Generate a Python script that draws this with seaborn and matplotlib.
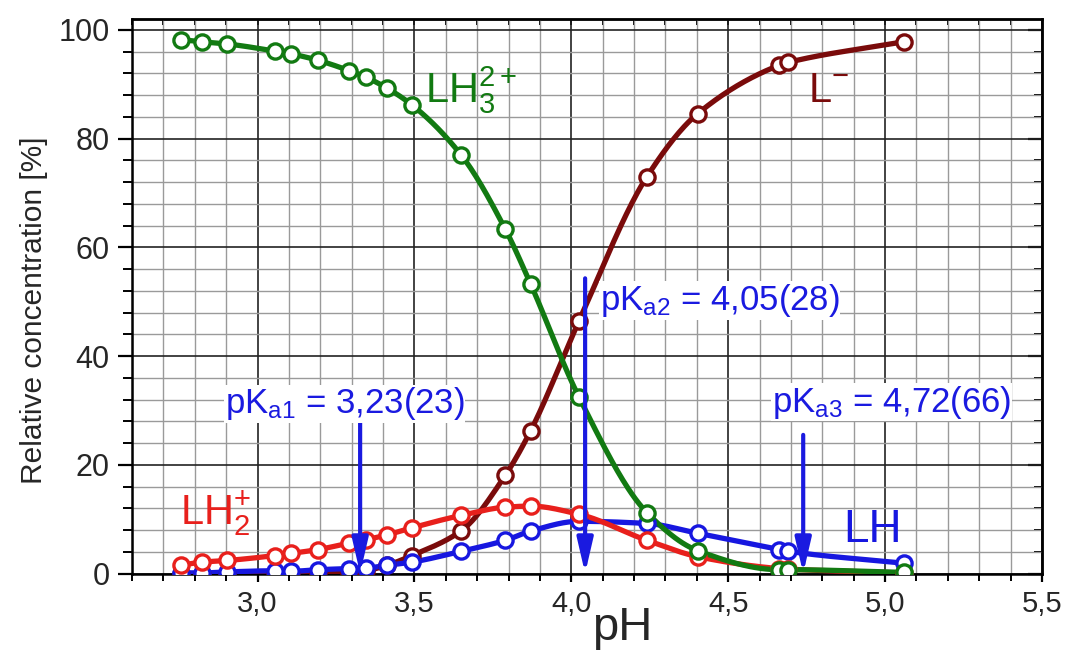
import numpy as np
import pandas as pd
import matplotlib
matplotlib.use("Agg")
import matplotlib.pyplot as plt
from matplotlib.ticker import MultipleLocator, FuncFormatter
import seaborn as sns

# ---------------- data ----------------
ph = [2.755, 2.824, 2.904, 3.055, 3.106, 3.193, 3.292, 3.345, 3.412, 3.492,
      3.650, 3.790, 3.870, 4.024, 4.241, 4.403, 4.663, 4.690, 5.059]
lh3 = [98.2, 97.8, 97.4, 96.1, 95.6, 94.4, 92.5, 91.3, 89.3, 86.2,
       76.9, 63.3, 53.3, 32.5, 11.2, 4.2, 0.7, 0.7, 0.2]
lh2 = [1.5, 2.1, 2.4, 3.3, 3.7, 4.4, 5.6, 6.2, 7.1, 8.4,
       10.7, 12.2, 12.4, 10.9, 6.1, 3.1, 0.9, 0.8, 0.1]
lh = [0.1, 0.1, 0.3, 0.5, 0.4, 0.7, 0.9, 1.0, 1.5, 2.1,
      4.1, 6.1, 7.8, 9.6, 9.2, 7.4, 4.4, 4.1, 1.9]
l_minus = [0.0, 0.0, 0.0, 0.0, 0.0, 0.0, 0.1, 0.5, 1.5, 3.3,
           7.9, 18.1, 26.2, 46.4, 73.0, 84.6, 93.5, 94.0, 97.8]

species_labels = ["L$^{-}$", "LH", "LH$_{2}^{+}$", "LH$_{3}^{2+}$"]
species_values = [l_minus, lh, lh2, lh3]

pka_labels = ["pK$_{\\mathrm{a1}}$ = 3,23(23)",
              "pK$_{\\mathrm{a2}}$ = 4,05(28)",
              "pK$_{\\mathrm{a3}}$ = 4,72(66)"]
pka_arrow_x = [3.327, 4.044, 4.739]
pka_arrow_top = [27.7, 54.3, 25.5]

x_label = "pH"
y_label = "Relative concentration [%]"

# ---------------- style ----------------
colors = ["#7a0b0b", "#1717e0", "#e8201c", "#127a12"]
ann_blue = "#1a1ae0"

sns.set_theme(style="white")
plt.rcParams["font.family"] = ["Liberation Sans", "DejaVu Sans"]
plt.rcParams["mathtext.fontset"] = "custom"
plt.rcParams["mathtext.rm"] = "Liberation Sans"
plt.rcParams["mathtext.it"] = "Liberation Sans"
plt.rcParams["mathtext.bf"] = "Liberation Sans:bold"


def pchip(x, y, xs):
    x = np.asarray(x, float)
    y = np.asarray(y, float)
    h = np.diff(x)
    d = np.diff(y) / h
    n = len(x)
    m = np.zeros(n)
    for k in range(1, n - 1):
        if d[k - 1] * d[k] <= 0:
            m[k] = 0.0
        else:
            w1 = 2 * h[k] + h[k - 1]
            w2 = h[k] + 2 * h[k - 1]
            m[k] = (w1 + w2) / (w1 / d[k - 1] + w2 / d[k])
    m[0] = d[0]
    m[-1] = d[-1]
    idx = np.clip(np.searchsorted(x, xs) - 1, 0, n - 2)
    t = (xs - x[idx]) / h[idx]
    h00 = 2 * t**3 - 3 * t**2 + 1
    h10 = t**3 - 2 * t**2 + t
    h01 = -2 * t**3 + 3 * t**2
    h11 = t**3 - t**2
    return (h00 * y[idx] + h10 * h[idx] * m[idx] + h01 * y[idx + 1]
            + h11 * h[idx] * m[idx + 1])


fig = plt.figure(figsize=(10.68, 6.5), dpi=100)
ax = fig.add_axes([132 / 1068, 1 - 573.5 / 650, 910 / 1068, 554.5 / 650])

xs = np.linspace(ph[0], ph[-1], 400)
for vals, col in zip(species_values, colors):
    sns.lineplot(x=xs, y=pchip(ph, vals, xs), color=col, linewidth=3.8,
                 estimator=None, sort=False, ax=ax, zorder=3)
    sns.scatterplot(x=ph, y=vals, facecolor="white", edgecolor=col,
                    linewidth=2.4, s=120, ax=ax, zorder=4)

ax.set_xlim(2.6, 5.5)
ax.set_ylim(0, 102)

ax.xaxis.set_major_locator(MultipleLocator(0.5))
ax.xaxis.set_minor_locator(MultipleLocator(0.1))
ax.yaxis.set_major_locator(MultipleLocator(20))
ax.yaxis.set_minor_locator(MultipleLocator(4))
ax.xaxis.set_major_formatter(FuncFormatter(lambda v, p: f"{v:.1f}".replace(".", ",")))
ax.yaxis.set_major_formatter(FuncFormatter(lambda v, p: f"{v:.0f}"))

ax.set_axisbelow(True)
ax.grid(which="major", color="#222222", lw=1.2)
ax.grid(which="minor", color="#9a9a9a", lw=1.0)

for s in ax.spines.values():
    s.set_color("black")
    s.set_linewidth(1.8)

ax.tick_params(axis="x", which="major", direction="out", length=6, width=1.6,
               color="black", labelsize=21, pad=6, bottom=True)
ax.tick_params(axis="x", which="minor", direction="out", length=5, width=1.4,
               color="black", bottom=True)
ax.tick_params(axis="y", which="major", direction="out", length=10, width=1.6,
               color="black", labelsize=22, pad=6, left=True)
ax.tick_params(axis="y", which="minor", direction="out", length=6.5, width=1.4,
               color="black", left=True)

top = ax.secondary_xaxis("top")
top.xaxis.set_major_locator(MultipleLocator(0.5))
top.xaxis.set_minor_locator(MultipleLocator(0.1))
top.tick_params(which="both", direction="in", length=4.5, width=1.4,
                labeltop=False, color="black")
right = ax.secondary_yaxis("right")
right.yaxis.set_major_locator(MultipleLocator(20))
right.yaxis.set_minor_locator(MultipleLocator(4))
right.tick_params(which="major", direction="in", length=10, width=1.6,
                  labelright=False, color="black")
right.tick_params(which="minor", direction="in", length=6, width=1.4,
                  labelright=False, color="black")
for sec in (top, right):
    for s in sec.spines.values():
        s.set_linewidth(1.8)

ax.set_xlabel(x_label, fontsize=34, va="top")
ax.xaxis.set_label_coords((622 - 132) / 910, -0.058)
ax.set_ylabel(y_label, fontsize=21.5, va="center")
ax.yaxis.set_label_coords(-0.108, (573.5 - 310) / 554.5)

# species labels
label_pos = [(4.754, 86.7), (4.866, 5.8), (2.753, 8.9), (3.534, 86.7)]
label_size = [30, 33, 30, 30]
for txt, (lx, ly), col, fs in zip(species_labels, label_pos, colors, label_size):
    ax.text(lx, ly, txt, color=col, fontsize=fs, ha="left", va="baseline",
            zorder=5)

# pKa annotations
text_pos = [(2.896, 31.2), (4.091, 50.2), (4.640, 31.5)]
for txt, (tx, ty), axx, aty in zip(pka_labels, text_pos, pka_arrow_x, pka_arrow_top):
    ax.annotate("", xy=(axx, 0), xytext=(axx, aty),
                arrowprops=dict(arrowstyle="-|>,head_length=1.3,head_width=0.3",
                                color=ann_blue, lw=3.0, mutation_scale=16,
                                shrinkA=0, shrinkB=0),
                zorder=6)
    ax.text(tx, ty, txt, color=ann_blue, fontsize=25, ha="left", va="center",
            zorder=7, bbox=dict(facecolor="white", edgecolor="none", pad=0.5))

fig.savefig("out.png", dpi=100)
